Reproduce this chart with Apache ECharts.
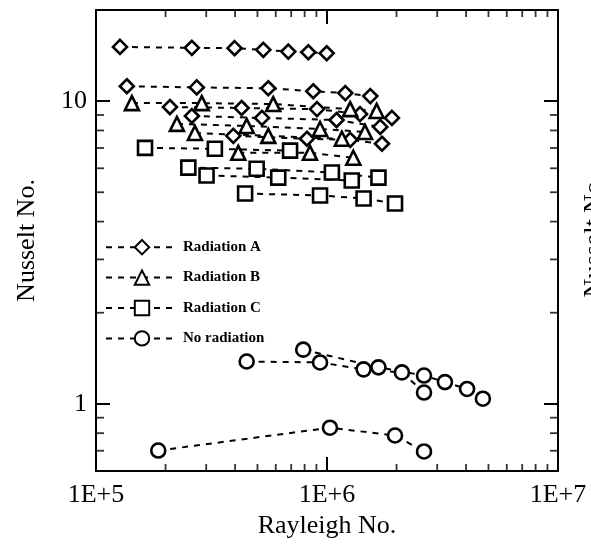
<!DOCTYPE html>
<html>
<head>
<meta charset="utf-8">
<script src="https://cdn.jsdelivr.net/npm/echarts@6/dist/echarts.min.js"></script>
<style>
  html, body { margin: 0; padding: 0; background: #fff; }
  #chart { width: 591px; height: 544px; }
</style>
</head>
<body>
<div id="chart"></div>
<script>
// axis ranges and ticks
var xMin = 1e5, xMax = 1e7;
var yMin = 0.6, yMax = 20;
var xTickValues = [1e5, 1e6, 1e7];
var xTickLabels = ['1E+5', '1E+6', '1E+7'];
var yTickValues = [1, 10];
var yTickLabels = ['1', '10'];
var xMinorTicks = [2e5, 3e5, 4e5, 5e5, 6e5, 7e5, 8e5, 9e5, 2e6, 3e6, 4e6, 5e6, 6e6, 7e6, 8e6, 9e6];
var yMinorTicks = [0.7, 0.8, 0.9, 2, 3, 4, 5, 6, 7, 8, 9];

// Radiation A (diamonds)
var a1Ra = [1.27e5, 2.60e5, 3.98e5, 5.30e5, 6.80e5, 8.30e5, 9.97e5];
var a1Nu = [15.1, 15.0, 14.96, 14.77, 14.58, 14.5, 14.39];
var a2Ra = [1.36e5, 2.73e5, 5.57e5, 8.72e5, 1.20e6, 1.54e6];
var a2Nu = [11.2, 11.1, 11.03, 10.78, 10.63, 10.39];
var a3Ra = [2.09e5, 4.27e5, 9.05e5, 1.39e6, 1.91e6];
var a3Nu = [9.56, 9.49, 9.41, 9.06, 8.80];
var a4Ra = [2.60e5, 5.23e5, 1.10e6, 1.70e6];
var a4Nu = [8.93, 8.80, 8.66, 8.22];
var a5Ra = [3.93e5, 8.19e5, 1.26e6, 1.73e6];
var a5Nu = [7.68, 7.51, 7.45, 7.23];

// Radiation B (triangles)
var b1Ra = [1.43e5, 2.87e5, 5.85e5, 1.26e6, 1.64e6];
var b1Nu = [9.85, 9.85, 9.78, 9.41, 9.28];
var b2Ra = [2.24e5, 4.49e5, 9.33e5, 1.46e6];
var b2Nu = [8.41, 8.28, 8.09, 7.91];
var b3Ra = [2.68e5, 5.57e5, 1.16e6];
var b3Nu = [7.85, 7.68, 7.51];
var b4Ra = [4.13e5, 8.44e5, 1.30e6];
var b4Nu = [6.75, 6.75, 6.50];

// Radiation C (squares)
var c1Ra = [1.63e5, 3.27e5, 6.92e5];
var c1Nu = [7.01, 6.96, 6.86];
var c2Ra = [2.51e5, 4.96e5, 1.05e6, 1.67e6];
var c2Nu = [6.03, 5.98, 5.81, 5.59];
var c3Ra = [3.01e5, 6.15e5, 1.28e6];
var c3Nu = [5.68, 5.59, 5.47];
var c4Ra = [4.42e5, 9.33e5, 1.44e6, 1.97e6];
var c4Nu = [4.95, 4.88, 4.77, 4.59];

// No radiation (circles)
var n1Ra = [1.86e5, 1.03e6, 1.97e6, 2.63e6];
var n1Nu = [0.701, 0.834, 0.786, 0.696];
var n2Ra = [4.49e5, 9.33e5, 1.44e6, 2.11e6, 2.63e6];
var n2Nu = [1.38, 1.37, 1.30, 1.27, 1.09];
var n3Ra = [7.89e5, 1.67e6, 2.63e6, 3.24e6, 4.04e6, 4.73e6];
var n3Nu = [1.51, 1.32, 1.24, 1.18, 1.12, 1.04];

var serif = '"Liberation Serif", "Times New Roman", serif';

function pairs(xs, ys) {
	return xs.map(function (x, i) { return [x, ys[i]]; });
}

function lineSeries(name, symbol, xs, ys) {
	return {
		name: name,
		type: 'line',
		data: pairs(xs, ys),
		symbol: symbol,
		symbolSize: symbol === 'triangle' ? 14 : 14,
		showAllSymbol: true,
		lineStyle: { color: '#000', width: 2, type: [6, 6] },
		itemStyle: { color: '#fff', borderColor: '#000', borderWidth: 2.6 },
		emphasis: { disabled: true },
		animation: false
	};
}

function tickSeries(data, size, offset) {
	return {
		type: 'scatter',
		data: data,
		symbol: 'rect',
		symbolSize: size,
		symbolOffset: offset,
		itemStyle: { color: '#000' },
		silent: true,
		clip: false,
		animation: false
	};
}

function tickLabel(values, labels) {
	return function (v) {
		for (var i = 0; i < values.length; i++) {
			if (Math.abs(v / values[i] - 1) < 1e-6) return labels[i];
		}
		return '';
	};
}

var chart = echarts.init(document.getElementById('chart'));

var series = [
	lineSeries('Radiation A', 'diamond', a1Ra, a1Nu),
	lineSeries('Radiation A', 'diamond', a2Ra, a2Nu),
	lineSeries('Radiation A', 'diamond', a3Ra, a3Nu),
	lineSeries('Radiation A', 'diamond', a4Ra, a4Nu),
	lineSeries('Radiation A', 'diamond', a5Ra, a5Nu),
	lineSeries('Radiation B', 'triangle', b1Ra, b1Nu),
	lineSeries('Radiation B', 'triangle', b2Ra, b2Nu),
	lineSeries('Radiation B', 'triangle', b3Ra, b3Nu),
	lineSeries('Radiation B', 'triangle', b4Ra, b4Nu),
	lineSeries('Radiation C', 'rect', c1Ra, c1Nu),
	lineSeries('Radiation C', 'rect', c2Ra, c2Nu),
	lineSeries('Radiation C', 'rect', c3Ra, c3Nu),
	lineSeries('Radiation C', 'rect', c4Ra, c4Nu),
	lineSeries('No radiation', 'circle', n1Ra, n1Nu),
	lineSeries('No radiation', 'circle', n2Ra, n2Nu),
	lineSeries('No radiation', 'circle', n3Ra, n3Nu),
	// minor ticks on the four sides, placed through the log scales
	tickSeries(xMinorTicks.map(function (v) { return [v, yMin]; }), [1.8, 7], [0, -3.5]),
	tickSeries(xMinorTicks.map(function (v) { return [v, yMax]; }), [1.8, 7], [0, 3.5]),
	tickSeries(yMinorTicks.map(function (v) { return [xMin, v]; }), [8, 1.8], [4, 0]),
	tickSeries(yMinorTicks.map(function (v) { return [xMax, v]; }), [8, 1.8], [-4, 0])
];

var axisLine = { show: true, lineStyle: { color: '#000', width: 2 } };
var majorTick = { show: true, inside: true, length: 14, lineStyle: { color: '#000', width: 2 } };

chart.setOption({
	backgroundColor: '#fff',
	animation: false,
	grid: { left: 96, right: 33, top: 10, bottom: 73, containLabel: false, outerBoundsMode: 'none' },
	legend: {
		data: ['Radiation A', 'Radiation B', 'Radiation C', 'No radiation'],
		orient: 'vertical',
		left: 100,
		top: 234,
		itemWidth: 72,
		itemHeight: 18,
		itemGap: 14,
		selectedMode: false,
		textStyle: { fontFamily: serif, fontWeight: 'bold', fontSize: 15, color: '#000' }
	},
	xAxis: [{
		type: 'log',
		logBase: 10,
		min: xMin,
		max: xMax,
		name: 'Rayleigh No.',
		nameLocation: 'middle',
		nameGap: 38,
		nameTextStyle: { fontFamily: serif, fontSize: 26, color: '#000' },
		axisLine: axisLine,
		axisTick: majorTick,
		splitLine: { show: false },
		axisLabel: {
			margin: 11,
			fontFamily: serif, fontSize: 26, color: '#000',
			formatter: tickLabel(xTickValues, xTickLabels)
		}
	}, {
		type: 'log',
		logBase: 10,
		min: xMin,
		max: xMax,
		position: 'top',
		axisLine: axisLine,
		axisTick: majorTick,
		splitLine: { show: false },
		axisLabel: { show: false }
	}],
	yAxis: [{
		type: 'log',
		logBase: 10,
		min: yMin,
		max: yMax,
		name: 'Nusselt No.',
		nameLocation: 'middle',
		nameGap: 56,
		nameTextStyle: { fontFamily: serif, fontSize: 26, color: '#000' },
		axisLine: axisLine,
		axisTick: majorTick,
		splitLine: { show: false },
		axisLabel: {
			margin: 9,
			fontFamily: serif, fontSize: 26, color: '#000',
			formatter: tickLabel(yTickValues, yTickLabels)
		}
	}, {
		type: 'log',
		logBase: 10,
		min: yMin,
		max: yMax,
		position: 'right',
		axisLine: axisLine,
		axisTick: majorTick,
		splitLine: { show: false },
		axisLabel: { show: false }
	}],
	graphic: [{
		// label of the neighbouring panel, cut by the right edge
		type: 'text',
		x: 594,
		y: 236,
		rotation: Math.PI / 2,
		style: {
			text: 'Nusselt No.',
			font: '26px ' + serif,
			fill: '#000',
			textAlign: 'center',
			textVerticalAlign: 'middle'
		}
	}],
	series: series
});
</script>
</body>
</html>
